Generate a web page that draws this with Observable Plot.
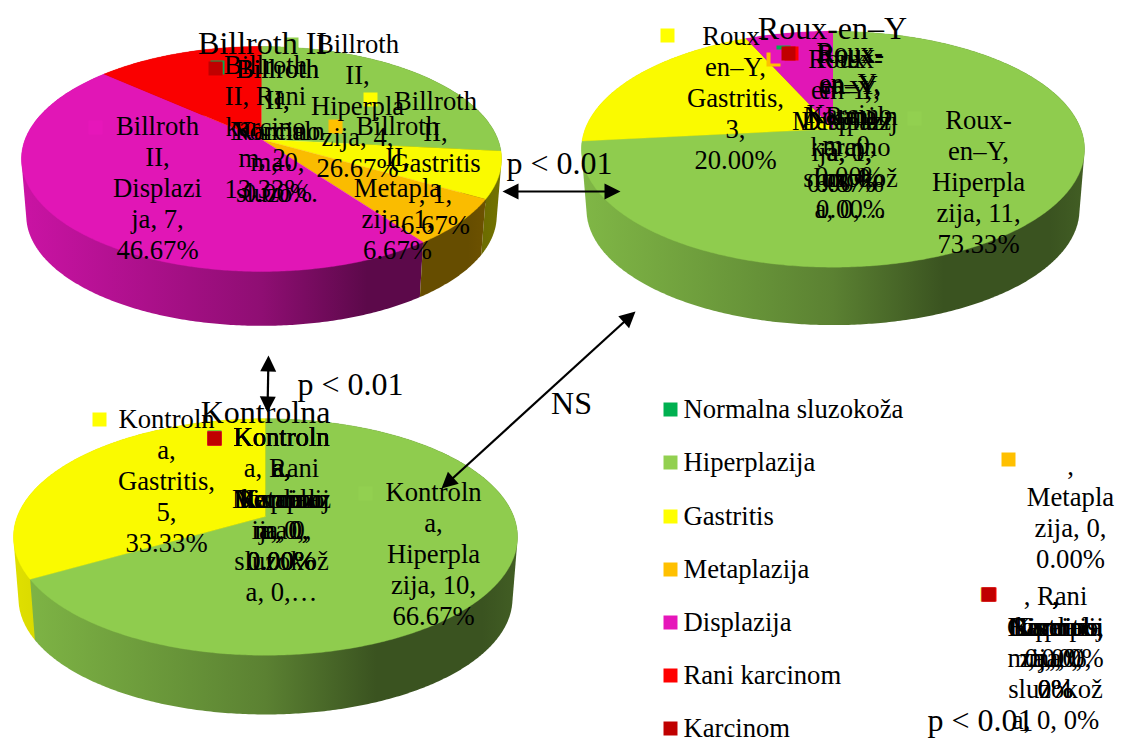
<!DOCTYPE html>
<html>
<head>
<meta charset="utf-8">
<style>html,body{margin:0;padding:0;background:#fff;overflow:hidden}svg{display:block}</style>
<script src="https://cdn.jsdelivr.net/npm/d3@7"></script>
<script src="https://cdn.jsdelivr.net/npm/@observablehq/plot@0.6"></script>
</head>
<body>
<script>
// ---------- data ----------
const categories = ["Normalna sluzokoža","Hiperplazija","Gastritis","Metaplazija","Displazija","Rani karcinom","Karcinom"];
const colors = ["#00B050","#92D050","#FFFF00","#FFC000","#E616BA","#FF0000","#C00000"];
const billrothValues = [0,4,1,1,7,2,0];
const rouxValues = [0,11,3,0,1,0,0];
const kontrolnaValues = [0,10,5,0,0,0,0];

const billrothLabels = [
  "Billroth\nII,\nNormaln\na\nsluzo…",
  "Billroth\nII,\nHiperpla\nzija, 4,\n26.67%",
  "Billroth\nII,\nGastritis\n, 1,\n6.67%",
  "Billroth\nII,\nMetapla\nzija, 1,\n6.67%",
  "Billroth\nII,\nDisplazi\nja, 7,\n46.67%",
  "Billroth\nII, Rani\nkarcino\nm, 2,\n13.33%",
  "Billroth\nII,\nKarcino\nm, 0,\n0.00%"
];
const rouxLabels = [
  "Roux-\nen–Y,\nNormaln\na\nsluzokož\na, 0,…",
  "Roux-\nen–Y,\nHiperpla\nzija, 11,\n73.33%",
  "Roux-\nen–Y,\nGastritis,\n3,\n20.00%",
  "Roux-\nen–Y,\nMetaplaz\nija, 0,\n0.00%",
  "Roux-\nen–Y,\nDisplazij\na, 1,\n6.67%",
  "Roux-\nen–Y,\nRani\nkarcino\nm, 0,\n0.00%",
  "Roux-\nen–Y,\nKarcino\nm, 0,\n0.00%"
];
const kontrolnaLabels = [
  "Kontroln\na,\nNormaln\na\nsluzokož\na, 0,…",
  "Kontroln\na,\nHiperpla\nzija, 10,\n66.67%",
  "Kontroln\na,\nGastritis,\n5,\n33.33%",
  "Kontroln\na,\nMetaplaz\nija, 0,\n0.00%",
  "Kontroln\na,\nDisplazij\na, 0,\n0.00%",
  "Kontroln\na, Rani\nkarcino\nm, 0,\n0.00%",
  "Kontroln\na,\nKarcino\nm, 0,\n0.00%"
];
const blankLabels = [
  ",\nNormaln\na\nsluzokož\na, 0, 0%",
  ",\nHiperpla\nzija, 0,\n0%",
  ",\nGastritis,\n0, 0%",
  ",\nMetapla\nzija, 0,\n0.00%",
  ",\nDisplazij\na, 0,\n0%",
  ", Rani\nkarcino\nm, 0,\n0%",
  ",\nKarcino\nm, 0, 0%"
];
const pieTitles = ["Billroth II","Roux-en–Y","Kontrolna"];
const pValueText = "p < 0.01";
const nsText = "NS";

// ---------- layout ----------
const W = 1122, H = 738;
const k = 0.1733, S = 0.98;
const pies = [
  {id:"b", values:billrothValues, cx:261,   y0:139,   A:236.4, B:109.1, drop:57,   hw:240},
  {id:"r", values:rouxValues,     cx:832.5, y0:128.3, A:247.7, B:114.4, drop:60.7, hw:251.5},
  {id:"k", values:kontrolnaValues,cx:265,   y0:516,   A:248.2, B:114.7, drop:62,   hw:252}
];
const project = (p, a, lower) => {
  const u = Math.sin(a), v = -Math.cos(a), w = 1 - k*v, s = lower ? S : 1;
  return {x: p.cx + s*p.A*u/w, y: p.y0 + (lower ? p.drop : 0) + s*p.B*v/w, v};
};
const tone = (c, f) => { const b = d3.rgb(c); return d3.rgb(b.r*f, b.g*f, b.b*f).formatHex(); };
const tops = [], walls = [];
for (const p of pies) {
  const arcs = d3.pie().sort(null).value(d => d)(p.values);
  arcs.forEach((arc, i) => {
    if (!arc.value) return;
    const n = Math.max(2, Math.ceil((arc.endAngle-arc.startAngle)/0.01));
    const angles = d3.range(n+1).map(j => arc.startAngle + (arc.endAngle-arc.startAngle)*j/n);
    const upper = angles.map(a => project(p,a,false));
    const lower = angles.map(a => project(p,a,true));
    tops.push({pts:[{x:p.cx,y:p.y0},...upper], color:tone(colors[i],0.98)});
    const hull = d3.polygonHull([...upper,...lower].map(d => [d.x,d.y])).map(([x,y]) => ({x,y}));
    walls.push({pts:hull, fill:`url(#w-${p.id}-${i})`, v:d3.mean(upper,d=>d.v)});
  });
}
walls.sort((a,b) => a.v-b.v);

const gradientStops = [[0,.88],[.35,.70],[.5,.62],[.72,.40],[.93,.40],[1,.45]];
function defsMark(index, {x}) {
  const defs = d3.create("svg:defs");
  for (const p of pies) colors.forEach((c,i) => {
    const g = defs.append("linearGradient").attr("id",`w-${p.id}-${i}`)
      .attr("gradientUnits","userSpaceOnUse")
      .attr("x1",x(p.cx-p.hw)).attr("x2",x(p.cx+p.hw)).attr("y1",0).attr("y2",0);
    for (const [o,f] of gradientStops)
      g.append("stop").attr("offset",o).attr("stop-color",tone(c,f));
  });
  return defs.node();
}

// label first-line centres, marker centres
const labelPos = {
  b: [[277,70],[357,45],[435,102],[397,127],[157,127],[265,66],[277,70]],
  r: [[850,55],[978,121],[735,37],[841,60],[849,60],[850,55],[849,53]],
  k: [[281,438],[433,493],[166,420],[281,438],[281,438],[281,438],[281,438]],
  x: [[1055,597],[1055,597],[1055,597],[1070,467],[1055,597],[1055,597],[1055,597]]
};
const markerPos = {
  b: [[217,67],[291,44],[370,99],[335,126],[95,127],[215,69],[215,68]],
  r: [[783,52],[914,118],[667,35],[773,59],[777,56],[791,53],[788,53]],
  k: [[214,437],[365,493],[99,419],[214,438],[214,438],[214,438],[214,438]],
  x: [[988,594],[988,594],[987,594],[1008,459],[988,594],[989,594],[988,594]]
};
const labelRows = [], markerRows = [];
[["b",billrothLabels],["r",rouxLabels],["k",kontrolnaLabels],["x",blankLabels]].forEach(([id,texts]) => {
  texts.forEach((t,i) => {
    labelRows.push({text:t, x:labelPos[id][i][0], y:labelPos[id][i][1]});
    markerRows.push({x:markerPos[id][i][0], y:markerPos[id][i][1], color:colors[i]});
  });
});
const legendRows = categories.map((c,i) => ({text:c, color:colors[i], y:[409,462,516,569,622,675,728][i]}));
const titleRows = [{text:pieTitles[0],x:262,y:43},{text:pieTitles[1],x:832,y:28},{text:pieTitles[2],x:265,y:412},
  {text:pValueText,x:559,y:163},{text:pValueText,x:350,y:384},{text:pValueText,x:980,y:720},{text:nsText,x:571,y:403}];
const arrowRows = [
  {x1:502,y1:191,x2:620,y2:191},
  {x1:268,y1:355,x2:267,y2:412},
  {x1:441,y1:488,x2:635,y2:311}
];
const head = (xt,yt,xf,yf) => {
  const L = Math.hypot(xt-xf,yt-yf), ux=(xt-xf)/L, uy=(yt-yf)/L, len=16, hw=8;
  return [{x:xt,y:yt},{x:xt-ux*len-uy*hw,y:yt-uy*len+ux*hw},{x:xt-ux*len+uy*hw,y:yt-uy*len-ux*hw}];
};
const heads = arrowRows.flatMap(a => [head(a.x2,a.y2,a.x1,a.y1), head(a.x1,a.y1,a.x2,a.y2)]);
const shafts = arrowRows.map(a => {
  const L=Math.hypot(a.x2-a.x1,a.y2-a.y1), ux=(a.x2-a.x1)/L, uy=(a.y2-a.y1)/L;
  return {x1:a.x1+ux*10,y1:a.y1+uy*10,x2:a.x2-ux*10,y2:a.y2-uy*10};
});

const serif = "Liberation Serif";
const chart = Plot.plot({
  width:W, height:H, margin:0,
  x:{domain:[0,W],range:[0,W],axis:null},
  y:{domain:[0,H],range:[0,H],axis:null},
  style:{background:"#fff"},
  marks:[
    defsMark,
    ...walls.map(s => Plot.line(s.pts,{x:"x",y:"y",fill:s.fill,stroke:"none"})),
    ...tops.map(s => Plot.line(s.pts,{x:"x",y:"y",fill:s.color,stroke:s.color,strokeWidth:0.4})),
    Plot.dot(markerRows,{x:"x",y:"y",symbol:"square",r:7.9,fill:d=>d.color,stroke:"none"}),
    Plot.text(labelRows,{x:"x",y:"y",text:"text",fontFamily:serif,fontSize:26.67,lineHeight:1.16,lineAnchor:"top",dy:-14,textAnchor:"middle",fill:"#000"}),
    Plot.text(titleRows,{x:"x",y:"y",text:"text",fontFamily:serif,fontSize:32,textAnchor:"middle",fill:"#000"}),
    Plot.dot(legendRows,{x:()=>670,y:"y",symbol:"square",r:7.9,fill:d=>d.color,stroke:"none"}),
    Plot.text(legendRows,{x:()=>683,y:"y",text:"text",fontFamily:serif,fontSize:26.67,textAnchor:"start",fill:"#000"}),
    Plot.link(shafts,{x1:"x1",y1:"y1",x2:"x2",y2:"y2",stroke:"#000",strokeWidth:2.2}),
    ...heads.map(h => Plot.line(h,{x:"x",y:"y",fill:"#000",stroke:"none"}))
  ]
});
chart.style.color = "#000";
document.body.appendChild(chart);
</script>
</body>
</html>
